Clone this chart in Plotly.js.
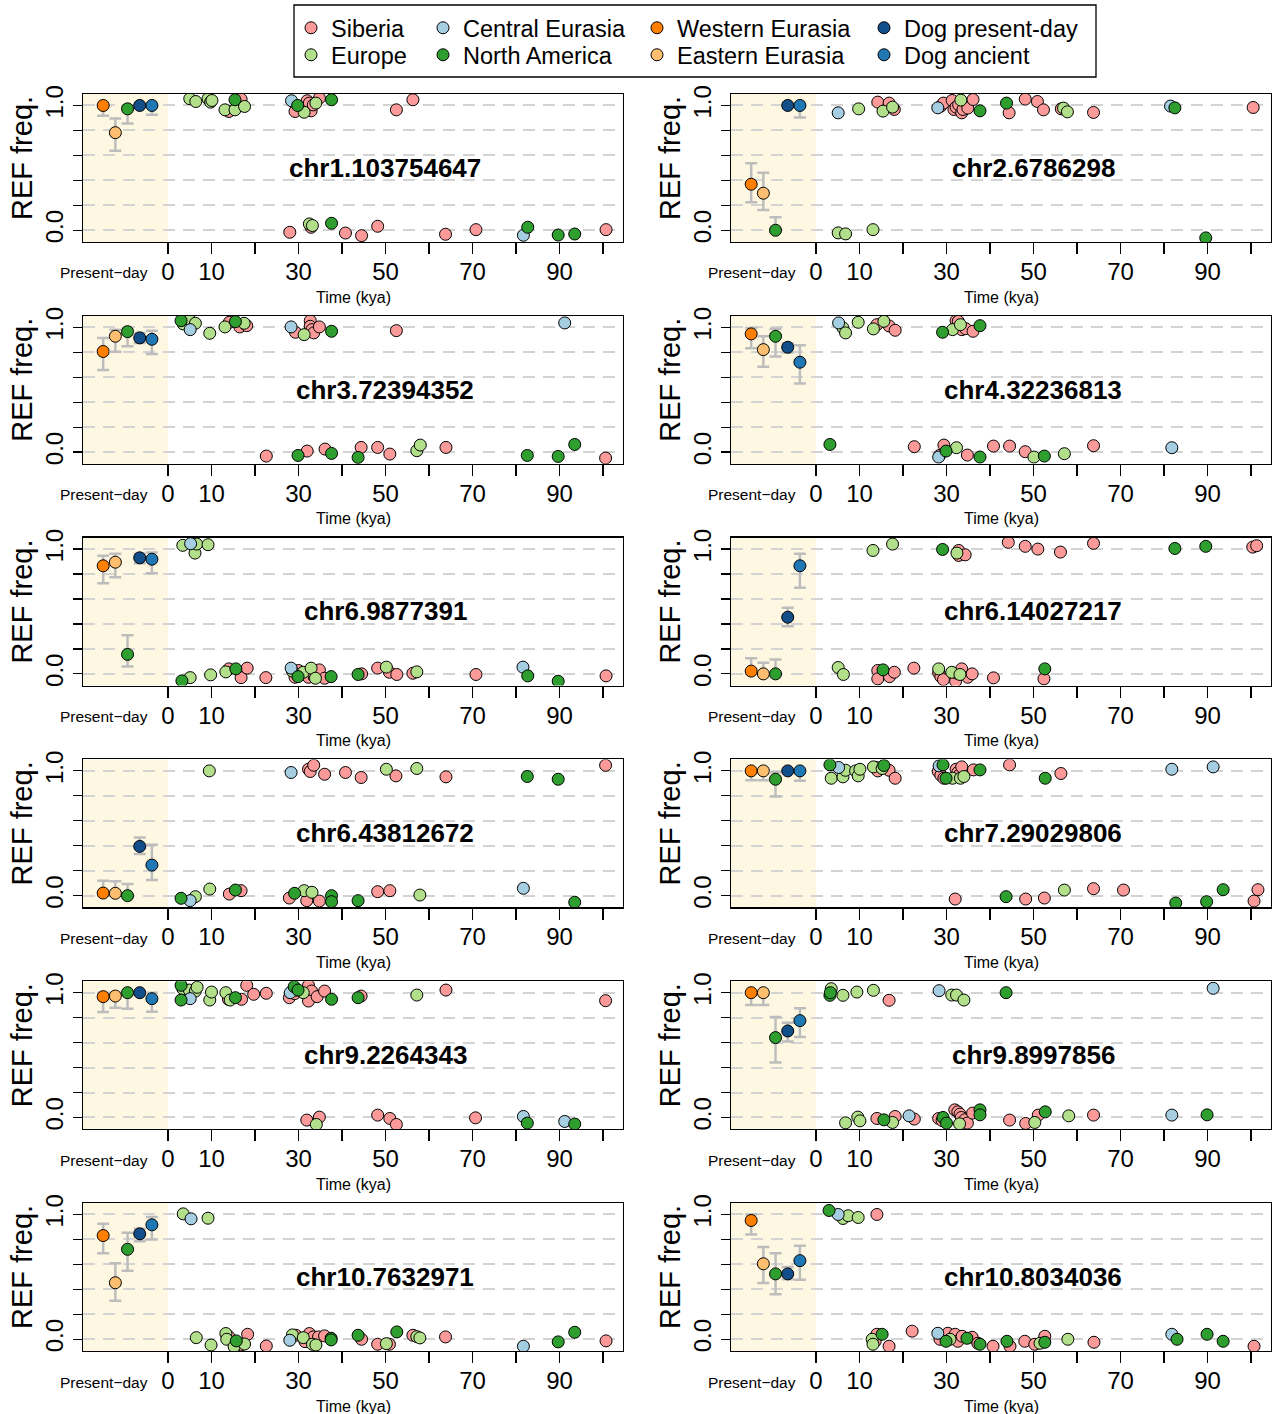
<!DOCTYPE html>
<html>
<head>
<meta charset="utf-8">
<script src="https://cdn.plot.ly/plotly-3.0.1.min.js"></script>
<style>
  html, body { margin: 0; padding: 0; background: #ffffff; }
  #chart { width: 1273px; height: 1414px; }
</style>
</head>
<body>
<div id="chart"></div>
<script>
// ---- SNP labels, one per panel (reading order: left, right, next row) ----
const snpNames = [
  'chr1.103754647', 'chr2.6786298',
  'chr3.72394352', 'chr4.32236813',
  'chr6.9877391', 'chr6.14027217',
  'chr6.43812672', 'chr7.29029806',
  'chr9.2264343', 'chr9.8997856',
  'chr10.7632971', 'chr10.8034036'
];

// ---- present-day groups (drawn left of 0 kya) ----
const presentGroups = ['Western Eurasia', 'Eastern Eurasia', 'North America', 'Dog present-day', 'Dog ancient'];
const presentSlots = [-14.9, -12.1, -9.3, -6.5, -3.7];

// ---- x axis ticks ----
const xTickVals = [0, 10, 20, 30, 40, 50, 60, 70, 80, 90, 100];
const xTickText = ['0', '10', '', '30', '', '50', '', '70', '', '90', ''];
const yTickVals = [0, 0.2, 0.4, 0.6, 0.8, 1.0];
const yTickText = ['0.0', '', '', '', '', '1.0'];

// ---- ancient wolves: [age (kya), REF allele frequency] ----
// chr1.103754647
const chr1_103754647_siberia = [[14.0,0.952],[16.8,1.051],[29.2,0.952],[32.0,1.038],[32.5,1.019],[32.9,0.957],[33.4,1.005],[34.8,1.059],[52.5,0.965],[56.3,1.046],[28.0,-0.016],[32.9,0.024],[40.8,-0.022],[44.5,-0.043],[48.2,0.032],[63.8,-0.032],[70.8,0.005],[100.7,0.005]];
const chr1_103754647_europe = [[5.0,1.054],[6.4,1.032],[9.2,1.054],[9.8,1.027],[10.1,1.04],[13.1,0.965],[15.4,0.965],[17.6,0.992],[31.3,0.946],[34.0,1.019],[32.5,0.051],[33.2,0.038]];
const chr1_103754647_central = [[28.4,1.038],[81.7,-0.04]];
const chr1_103754647_namerica = [[15.4,1.046],[29.8,1.0],[37.6,1.046],[37.6,0.056],[82.7,0.024],[89.7,-0.038],[93.5,-0.03]];
// chr2.6786298
const chr2_6786298_siberia = [[14.2,1.027],[16.8,1.019],[18.0,0.968],[28.7,0.995],[29.3,1.019],[31.3,1.04],[31.7,0.968],[32.2,0.987],[32.8,1.005],[33.5,0.941],[33.8,0.968],[34.9,0.979],[36.1,1.048],[44.4,0.941],[48.1,1.051],[50.9,1.032],[52.3,0.965],[56.4,0.973],[63.8,0.944],[100.5,0.984]];
const chr2_6786298_europe = [[9.8,0.973],[15.4,0.955],[17.6,0.987],[33.3,1.043],[56.9,0.979],[57.8,0.949],[5.1,-0.021],[6.8,-0.029],[13.1,0.005]];
const chr2_6786298_central = [[5.1,0.941],[28.0,0.981],[81.5,0.995]];
const chr2_6786298_namerica = [[37.7,0.957],[43.8,1.019],[82.5,0.981],[89.6,-0.061]];
// chr3.72394352
const chr3_72394352_siberia = [[14.1,1.04],[16.5,1.003],[18.1,1.013],[29.3,0.96],[32.7,1.053],[32.7,1.008],[33.1,0.981],[33.5,0.955],[34.8,1.003],[52.5,0.973],[22.6,-0.032],[32.0,0.008],[36.1,0.024],[44.4,0.037],[48.2,0.037],[51.0,-0.016],[63.9,0.037],[100.6,-0.048]];
const chr3_72394352_europe = [[3.5,1.027],[4.9,1.061],[6.3,1.032],[9.6,0.952],[13.1,1.003],[17.5,1.032],[31.3,0.941],[57.2,0.011],[58.0,0.056]];
const chr3_72394352_central = [[5.1,0.981],[28.3,1.003],[91.2,1.035]];
const chr3_72394352_namerica = [[3.0,1.053],[15.5,1.045],[37.6,0.968],[29.9,-0.027],[37.6,-0.011],[43.7,-0.043],[82.6,-0.027],[89.7,-0.035],[93.5,0.061]];
// chr4.32236813
const chr4_32236813_siberia = [[14.0,1.021],[16.8,1.011],[18.2,0.976],[32.2,1.053],[32.7,1.048],[33.5,0.981],[34.4,0.989],[36.1,0.968],[22.6,0.043],[28.4,-0.027],[29.4,0.056],[34.8,-0.024],[40.8,0.048],[44.5,0.048],[48.1,0.003],[63.8,0.051]];
const chr4_32236813_europe = [[6.2,0.995],[6.8,0.955],[9.7,1.04],[13.2,0.987],[15.6,1.048],[31.4,0.981],[33.2,1.021],[32.3,0.035],[50.1,-0.04],[57.1,-0.013]];
const chr4_32236813_central = [[5.2,1.035],[28.2,-0.04],[81.8,0.035]];
const chr4_32236813_namerica = [[29.1,0.96],[37.7,1.013],[3.2,0.061],[29.9,0.008],[37.7,-0.04],[52.5,-0.032]];
// chr6.9877391
const chr6_9877391_siberia = [[14.0,0.04],[16.8,-0.03],[18.2,0.046],[22.5,-0.03],[29.2,-0.027],[30.0,0.027],[31.7,-0.005],[32.3,-0.027],[33.1,0.013],[33.6,-0.022],[34.8,0.032],[36.0,-0.035],[44.5,0.0],[48.2,0.046],[50.9,0.013],[52.6,-0.005],[56.3,0.005],[70.8,-0.005],[100.7,-0.016]];
const chr6_9877391_europe = [[3.4,1.03],[6.2,0.968],[6.6,1.04],[9.2,1.035],[5.1,-0.03],[9.8,-0.008],[13.3,0.016],[28.6,0.022],[31.1,0.013],[32.9,0.046],[33.9,-0.035],[50.2,0.054],[57.2,0.016]];
const chr6_9877391_central = [[5.2,1.043],[28.3,0.046],[81.6,0.054]];
const chr6_9877391_namerica = [[3.2,-0.056],[15.6,0.04],[29.9,-0.022],[37.5,-0.022],[43.7,-0.005],[82.7,-0.016],[89.7,-0.059]];
// chr6.14027217
const chr6_14027217_siberia = [[32.8,0.989],[32.8,0.949],[34.3,0.954],[44.2,1.054],[48.1,1.022],[51.0,1.0],[56.2,0.976],[63.8,1.046],[100.4,1.016],[101.3,1.027],[14.2,0.027],[14.2,-0.04],[16.9,-0.022],[18.0,0.013],[22.5,0.046],[28.2,0.008],[28.7,-0.022],[29.3,-0.046],[32.1,-0.059],[32.4,0.005],[33.5,0.04],[34.9,-0.027],[35.9,0.0],[40.8,-0.032],[52.4,-0.04]];
const chr6_14027217_europe = [[13.1,0.989],[17.6,1.04],[32.4,0.968],[5.1,0.051],[6.3,-0.005],[28.2,0.04],[31.2,0.013],[33.1,-0.005]];
const chr6_14027217_central = [];
const chr6_14027217_namerica = [[29.1,0.997],[82.5,1.005],[89.6,1.022],[15.4,0.032],[52.6,0.04]];
// chr6.43812672
const chr6_43812672_siberia = [[32.3,1.013],[32.7,0.995],[33.5,1.045],[36.0,0.973],[40.8,0.987],[44.4,0.947],[52.4,0.96],[63.9,0.952],[100.6,1.045],[14.1,0.013],[16.8,0.04],[27.9,-0.019],[31.9,-0.04],[34.8,-0.043],[48.2,0.032],[51.0,0.04]];
const chr6_43812672_europe = [[9.5,1.0],[50.2,1.013],[57.2,1.019],[6.3,-0.008],[9.6,0.053],[31.3,0.04],[33.1,0.027],[57.9,0.005]];
const chr6_43812672_central = [[28.3,0.987],[5.1,-0.04],[81.7,0.059]];
const chr6_43812672_namerica = [[82.6,0.955],[89.7,0.933],[3.0,-0.021],[15.5,0.045],[29.1,0.019],[37.6,0.0],[37.6,-0.048],[43.7,-0.04],[93.5,-0.053]];
// chr7.29029806
const chr7_29029806_siberia = [[13.8,1.027],[14.2,1.0],[16.8,1.005],[18.2,0.941],[28.1,0.995],[28.7,0.965],[29.4,0.941],[32.2,1.013],[32.6,0.987],[33.0,0.968],[33.5,1.032],[36.2,1.008],[44.5,1.048],[56.3,0.979],[32.0,-0.027],[48.2,-0.027],[52.5,-0.019],[63.8,0.056],[70.7,0.045],[100.7,-0.043],[101.6,0.048]];
const chr7_29029806_europe = [[3.5,0.941],[6.2,0.952],[6.8,1.005],[9.1,1.0],[9.7,0.96],[10.1,1.013],[13.2,1.032],[15.2,1.019],[31.4,0.941],[33.2,0.941],[34.0,0.955],[57.1,0.045]];
const chr7_29029806_central = [[5.2,1.027],[28.3,1.04],[81.8,1.013],[91.3,1.032]];
const chr7_29029806_namerica = [[3.2,1.048],[15.6,1.043],[29.2,1.048],[29.9,0.941],[37.7,1.008],[52.7,0.941],[43.7,-0.008],[82.7,-0.059],[89.8,-0.048],[93.6,0.048]];
// chr9.2264343
const chr9_2264343_siberia = [[13.9,0.947],[16.9,0.947],[18.1,1.059],[19.7,0.987],[22.6,0.995],[27.9,0.96],[29.1,0.992],[31.5,1.0],[32.3,1.059],[32.6,0.968],[33.0,1.013],[32.3,0.933],[34.3,0.968],[36.0,1.013],[44.4,0.973],[63.9,1.021],[100.6,0.936],[31.9,-0.021],[34.8,0.003],[48.2,0.019],[51.0,-0.008],[52.5,-0.056],[70.7,-0.003]];
const chr9_2264343_europe = [[3.4,1.032],[4.9,1.021],[6.3,1.013],[6.7,1.043],[9.6,0.941],[10.0,1.005],[13.3,1.0],[14.3,0.941],[29.5,1.021],[31.1,1.0],[57.2,0.981],[34.1,-0.056]];
const chr9_2264343_central = [[5.1,0.952],[28.1,1.0],[81.7,0.008],[91.2,-0.032]];
const chr9_2264343_namerica = [[3.0,1.059],[3.0,0.941],[15.5,0.96],[29.0,1.048],[29.9,1.021],[37.6,0.947],[43.7,0.96],[82.6,-0.045],[93.5,-0.053]];
// chr9.8997856
const chr9_8997856_siberia = [[16.8,0.939],[14.0,-0.008],[18.2,0.008],[22.6,-0.013],[28.2,-0.008],[29.0,-0.024],[31.9,0.061],[32.6,0.045],[33.1,0.027],[33.4,0.0],[34.2,-0.019],[34.8,-0.045],[36.0,0.035],[44.5,-0.021],[48.2,-0.048],[51.1,0.019],[63.8,0.019]];
const chr9_8997856_europe = [[3.5,1.032],[6.2,0.979],[9.4,1.005],[13.2,1.019],[31.2,0.981],[32.3,0.981],[34.0,0.941],[6.8,-0.043],[9.6,0.003],[10.1,-0.027],[17.6,-0.04],[33.0,-0.051],[50.3,-0.04],[58.1,0.013]];
const chr9_8997856_central = [[28.3,1.016],[91.3,1.035],[21.4,0.013],[81.8,0.019]];
const chr9_8997856_namerica = [[3.2,0.979],[3.3,1.0],[43.7,1.0],[15.6,-0.019],[29.2,0.0],[30.0,-0.045],[37.7,0.061],[37.7,0.021],[52.7,0.045],[89.9,0.021]];
// chr10.7632971
const chr10_7632971_siberia = [[14.0,0.021],[16.8,-0.046],[18.3,0.04],[22.6,-0.054],[29.4,0.032],[31.5,-0.019],[32.5,0.046],[32.7,0.0],[33.4,0.019],[34.6,0.019],[36.0,0.027],[44.5,0.0],[48.2,-0.04],[50.9,-0.04],[56.3,0.032],[63.8,0.019],[100.7,-0.013]];
const chr10_7632971_europe = [[3.5,1.005],[9.2,0.97],[6.5,0.013],[9.9,-0.046],[13.3,0.046],[13.5,0.0],[15.2,-0.059],[17.6,-0.038],[28.6,0.035],[31.1,0.013],[33.2,-0.04],[34.0,-0.046],[50.2,-0.035],[57.2,0.021],[57.9,0.011]];
const chr10_7632971_central = [[5.3,0.965],[28.0,-0.008],[81.7,-0.056]];
const chr10_7632971_namerica = [[15.7,-0.013],[37.5,0.008],[37.5,-0.005],[43.7,0.032],[52.6,0.059],[89.7,-0.021],[93.5,0.056]];
// chr10.8034036
const chr10_8034036_siberia = [[14.0,1.0],[14.0,0.04],[13.6,-0.016],[16.8,-0.056],[22.1,0.065],[28.5,0.0],[30.3,0.048],[32.0,0.04],[32.6,-0.016],[33.6,0.024],[35.9,0.016],[37.2,-0.032],[40.7,-0.056],[44.6,-0.056],[48.0,-0.016],[50.3,-0.04],[52.6,0.024],[63.9,-0.024],[100.7,-0.056]];
const chr10_8034036_europe = [[6.2,0.968],[7.4,0.99],[9.7,0.976],[12.9,0.0],[13.1,-0.04],[30.8,0.0],[51.5,-0.032],[57.9,0.0]];
const chr10_8034036_central = [[5.1,1.0],[28.0,0.048],[81.8,0.04]];
const chr10_8034036_namerica = [[3.0,1.032],[15.2,0.04],[29.9,-0.016],[34.7,0.008],[37.7,-0.04],[43.9,-0.016],[52.6,-0.024],[83.0,0.0],[89.9,0.04],[93.6,-0.016]];

// ---- present-day groups: [REF freq, lower CI, upper CI], order as presentGroups ----
const chr1_103754647_present = [[1.0,0.917,1.0],[0.782,0.637,0.895],[0.973,0.855,1.0],[1.0,1.0,1.0],[1.0,0.925,1.0]];
const chr2_6786298_present = [[0.369,0.225,0.537],[0.297,0.163,0.46],[0.0,0.0,0.104],[1.0,1.0,1.0],[1.0,0.904,1.0]];
const chr3_72394352_present = [[0.806,0.657,0.915],[0.928,0.803,0.981],[0.965,0.848,0.995],[0.915,0.875,0.955],[0.904,0.785,0.973]];
const chr4_32236813_present = [[0.947,0.832,0.995],[0.821,0.683,0.928],[0.928,0.765,0.989],[0.84,0.797,0.872],[0.72,0.549,0.856]];
const chr6_9877391_present = [[0.866,0.726,0.946],[0.895,0.774,0.962],[0.156,0.059,0.309],[0.93,0.887,0.962],[0.919,0.806,0.973]];
const chr6_14027217_present = [[0.022,0.0,0.126],[0.0,0.0,0.089],[0.0,0.0,0.116],[0.454,0.382,0.53],[0.866,0.691,0.962]];
const chr6_43812672_present = [[0.021,0.0,0.12],[0.019,0.0,0.115],[0.0,0.0,0.093],[0.395,0.333,0.467],[0.245,0.125,0.408]];
const chr7_29029806_present = [[1.0,0.925,1.0],[1.0,0.925,1.0],[0.933,0.795,0.99],[1.0,1.0,1.0],[1.0,0.92,1.0]];
const chr9_2264343_present = [[0.968,0.845,1.0],[0.973,0.88,1.0],[1.0,0.872,1.0],[1.0,1.0,1.0],[0.952,0.848,1.0]];
const chr9_8997856_present = [[1.0,0.901,1.0],[1.0,0.901,1.0],[0.64,0.44,0.805],[0.693,0.608,0.76],[0.776,0.645,0.875]];
const chr10_7632971_present = [[0.831,0.689,0.925],[0.453,0.308,0.609],[0.721,0.55,0.853],[0.845,0.786,0.885],[0.917,0.799,0.979]];
const chr10_8034036_present = [[0.952,0.84,1.0],[0.605,0.45,0.74],[0.524,0.36,0.69],[0.524,0.48,0.58],[0.63,0.476,0.75]];

// ---- panels in drawing order ----
const panels = [
  [chr1_103754647_siberia, chr1_103754647_europe, chr1_103754647_central, chr1_103754647_namerica, chr1_103754647_present],
  [chr2_6786298_siberia, chr2_6786298_europe, chr2_6786298_central, chr2_6786298_namerica, chr2_6786298_present],
  [chr3_72394352_siberia, chr3_72394352_europe, chr3_72394352_central, chr3_72394352_namerica, chr3_72394352_present],
  [chr4_32236813_siberia, chr4_32236813_europe, chr4_32236813_central, chr4_32236813_namerica, chr4_32236813_present],
  [chr6_9877391_siberia, chr6_9877391_europe, chr6_9877391_central, chr6_9877391_namerica, chr6_9877391_present],
  [chr6_14027217_siberia, chr6_14027217_europe, chr6_14027217_central, chr6_14027217_namerica, chr6_14027217_present],
  [chr6_43812672_siberia, chr6_43812672_europe, chr6_43812672_central, chr6_43812672_namerica, chr6_43812672_present],
  [chr7_29029806_siberia, chr7_29029806_europe, chr7_29029806_central, chr7_29029806_namerica, chr7_29029806_present],
  [chr9_2264343_siberia, chr9_2264343_europe, chr9_2264343_central, chr9_2264343_namerica, chr9_2264343_present],
  [chr9_8997856_siberia, chr9_8997856_europe, chr9_8997856_central, chr9_8997856_namerica, chr9_8997856_present],
  [chr10_7632971_siberia, chr10_7632971_europe, chr10_7632971_central, chr10_7632971_namerica, chr10_7632971_present],
  [chr10_8034036_siberia, chr10_8034036_europe, chr10_8034036_central, chr10_8034036_namerica, chr10_8034036_present]
];

// ---- styling ----
const W = 1273, H = 1414;
const FONT = 'Liberation Sans, Arial, Helvetica, sans-serif';
// each legend entry gets its own legend box so the two-row grid can be placed freely
const ancientStyle = [
  { name: 'Siberia', color: '#FB9A99', legend: 'legend' },
  { name: 'Europe', color: '#B2DF8A', legend: 'legend2' },
  { name: 'Central Eurasia', color: '#A6CEE3', legend: 'legend3' },
  { name: 'North America', color: '#2E9E2E', legend: 'legend4' }
];
const presentStyle = [
  { color: '#FF7F00', legend: 'legend5', show: true },
  { color: '#FDBF6F', legend: 'legend6', show: true },
  { color: '#2E9E2E', legend: 'legend4', show: false },
  { color: '#124E8A', legend: 'legend7', show: true },
  { color: '#1F78B4', legend: 'legend8', show: true }
];
// legend box anchors (left, top) in pixels
const legendBoxes = {
  legend: [291, 6], legend2: [291, 33],
  legend3: [423, 6], legend4: [423, 33],
  legend5: [637, 6], legend6: [637, 33],
  legend7: [864, 6], legend8: [864, 33]
};
const MS = 12;
const X_RANGE = [-19.54, 104.6];
const Y_RANGE = [-0.094, 1.092];

const px = v => v / W;
const py = v => 1 - v / H;

const traces = [];
const layout = {
  width: W, height: H,
  margin: { l: 0, r: 0, t: 0, b: 0 },
  paper_bgcolor: '#ffffff',
  plot_bgcolor: '#ffffff',
  font: { family: FONT, color: '#000000' },
  showlegend: true,
  shapes: [],
  annotations: []
};

panels.forEach((panel, i) => {
  const n = i + 1;
  const xa = 'x' + (n === 1 ? '' : n);
  const ya = 'y' + (n === 1 ? '' : n);
  const col = i % 2, row = Math.floor(i / 2);
  const L = col ? 731 : 83, R = col ? 1271 : 623;
  const T = 94 + 221.8 * row, B = T + 148;

  layout['xaxis' + (n === 1 ? '' : n)] = {
    domain: [px(L), px(R)], anchor: ya, range: X_RANGE,
    tickmode: 'array', tickvals: xTickVals, ticktext: xTickText,
    ticks: 'outside', ticklen: 11, tickwidth: 1.2, tickcolor: '#000',
    tickfont: { size: 24, family: FONT, color: '#000' },
    ticklabelstandoff: -3,
    showline: true, mirror: true, linecolor: '#000', linewidth: 1.2,
    showgrid: false, zeroline: false, fixedrange: true
  };
  layout['yaxis' + (n === 1 ? '' : n)] = {
    domain: [py(B), py(T)], anchor: xa, range: Y_RANGE,
    tickmode: 'array', tickvals: yTickVals, ticktext: yTickText, tickangle: -90,
    ticks: 'outside', ticklen: 9, tickwidth: 1.2, tickcolor: '#000',
    tickfont: { size: 24, family: FONT, color: '#000' },
    showline: true, mirror: true, linecolor: '#000', linewidth: 1.2,
    showgrid: true, gridcolor: '#D3D3D3', gridwidth: 2, griddash: '12px,8px',
    zeroline: false, fixedrange: true
  };

  // present-day shading
  layout.shapes.push({
    type: 'rect', layer: 'below', xref: xa, yref: ya + ' domain',
    x0: X_RANGE[0], x1: 0, y0: 0, y1: 1,
    fillcolor: '#FEF7E1', line: { width: 0 }
  });

  // ancient wolves
  ancientStyle.forEach((st, g) => {
    const pts = panel[g];
    traces.push({
      type: 'scatter', mode: 'markers', xaxis: xa, yaxis: ya,
      name: st.name, legend: st.legend, legendgroup: st.name,
      showlegend: n === 1,
      x: pts.map(p => p[0]), y: pts.map(p => p[1]),
      marker: { size: MS, color: st.color, line: { color: '#000', width: 1 } },
      hoverinfo: 'skip'
    });
  });

  // present-day groups with confidence intervals
  panel[4].forEach((v, g) => {
    const st = presentStyle[g];
    traces.push({
      type: 'scatter', mode: 'markers', xaxis: xa, yaxis: ya,
      name: presentGroups[g], legend: st.legend, legendgroup: presentGroups[g],
      showlegend: n === 1 && st.show,
      x: [presentSlots[g]], y: [v[0]],
      error_y: {
        type: 'data', symmetric: false,
        array: [v[2] - v[0]], arrayminus: [v[0] - v[1]],
        color: '#BDBDBD', thickness: 2.5, width: 6
      },
      marker: { size: MS, color: st.color, line: { color: '#000', width: 1 } },
      hoverinfo: 'skip'
    });
  });

  // panel label
  layout.annotations.push({
    xref: xa, yref: ya, x: 50, y: 0.5, text: '<b>' + snpNames[i] + '</b>',
    showarrow: false, font: { size: 26, family: FONT, color: '#000' },
    xanchor: 'center', yanchor: 'middle'
  });
  // axis texts
  layout.annotations.push({
    xref: 'paper', yref: 'paper', x: px(L + 67), y: py(B + 31),
    text: 'Present\u2212day', showarrow: false,
    font: { size: 15.5, family: FONT, color: '#000' },
    xanchor: 'right', yanchor: 'middle'
  });
  layout.annotations.push({
    xref: 'paper', yref: 'paper', x: px((L + R) / 2), y: py(B + 55),
    text: 'Time (kya)', showarrow: false,
    font: { size: 16, family: FONT, color: '#000' },
    xanchor: 'center', yanchor: 'middle'
  });
  layout.annotations.push({
    xref: 'paper', yref: 'paper', x: px(L - 61), y: py(T + 64),
    text: 'REF freq.', showarrow: false, textangle: -90,
    font: { size: 29, family: FONT, color: '#000' },
    xanchor: 'center', yanchor: 'middle'
  });
});

// legend frame
layout.shapes.push({
  type: 'rect', xref: 'paper', yref: 'paper',
  x0: px(294), x1: px(1096), y0: py(77), y1: py(5),
  line: { color: '#000', width: 1.3 }, fillcolor: 'rgba(0,0,0,0)'
});

Object.keys(legendBoxes).forEach(key => {
  const [left, top] = legendBoxes[key];
  layout[key] = {
    x: px(left), y: py(top), xanchor: 'left', yanchor: 'top',
    orientation: 'v', bgcolor: 'rgba(0,0,0,0)', borderwidth: 0,
    font: { size: 23.5, family: FONT, color: '#000' },
    tracegroupgap: 0, itemclick: false, itemdoubleclick: false
  };
});

Plotly.newPlot('chart', traces, layout, { displayModeBar: false, staticPlot: true });
</script>
</body>
</html>
